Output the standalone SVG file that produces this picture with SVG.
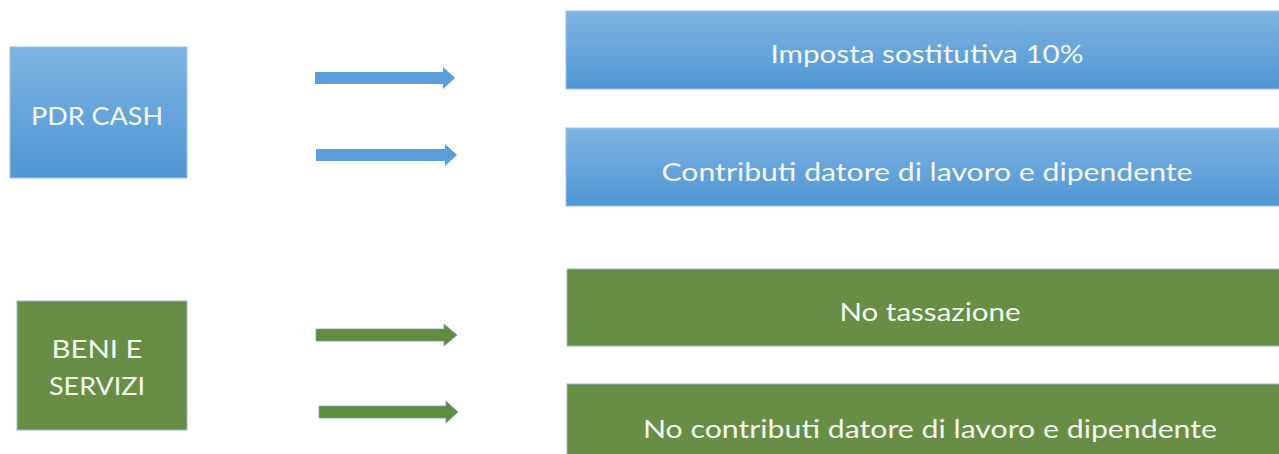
<svg xmlns="http://www.w3.org/2000/svg" width="1279" height="454" viewBox="0 0 1279 454">
  <defs>
    <linearGradient id="blueFill" x1="0" y1="0" x2="0" y2="1">
      <stop offset="0" stop-color="#7db4e3"/>
      <stop offset="1" stop-color="#4f96d4"/>
    </linearGradient>
    <style>
      .blue { fill: url(#blueFill); stroke: #9cc4e8; stroke-width: 1; }
      .green { fill: #668f45; stroke: #9bb8cf; stroke-width: 1; }
      .arrowBlue { fill: #5a9fdc; }
      .arrowGreen { fill: #5f8c3f; stroke: #7fa0b8; stroke-width: 0.8; }
      .label { font-family: Lato, "Open Sans", "Liberation Sans", sans-serif; font-size: 25px; fill: #f4f8f1; text-anchor: middle; }
    </style>
  </defs>

  <rect width="1279" height="454" fill="#ffffff"/>

  <!-- source boxes -->
  <g id="pdr-cash">
    <rect class="blue" x="10" y="47" width="177" height="131"/>
    <text class="label" x="97" y="125" textLength="132" lengthAdjust="spacingAndGlyphs">PDR CASH</text>
  </g>
  <g id="beni-servizi">
    <rect class="green" x="17" y="301" width="170" height="129"/>
    <text class="label" x="97" y="358" textLength="91" lengthAdjust="spacingAndGlyphs">BENI E</text>
    <text class="label" x="97" y="395" textLength="96" lengthAdjust="spacingAndGlyphs">SERVIZI</text>
  </g>

  <!-- outcome boxes -->
  <g id="imposta">
    <rect class="blue" x="566" y="11" width="720" height="78"/>
    <text class="label" x="927" y="63" textLength="313" lengthAdjust="spacingAndGlyphs">Imposta sostitutiva 10%</text>
  </g>
  <g id="contributi">
    <rect class="blue" x="566" y="128" width="720" height="78"/>
    <text class="label" x="927" y="181" textLength="531" lengthAdjust="spacingAndGlyphs">Contributi datore di lavoro e dipendente</text>
  </g>
  <g id="no-tassazione">
    <rect class="green" x="567" y="269" width="720" height="77"/>
    <text class="label" x="930" y="321" textLength="181" lengthAdjust="spacingAndGlyphs">No tassazione</text>
  </g>
  <g id="no-contributi">
    <rect class="green" x="567" y="384" width="720" height="80"/>
    <text class="label" x="930" y="438" textLength="574" lengthAdjust="spacingAndGlyphs">No contributi datore di lavoro e dipendente</text>
  </g>

  <!-- block arrows -->
  <g id="connectors">
    <path class="arrowBlue" d="M315 72 H443 V67 L455 78 L443 89 V84 H315 Z"/>
    <path class="arrowBlue" d="M316 149 H445 V144 L457 155 L445 166 V161 H316 Z"/>
    <path class="arrowGreen" d="M316 329 H444 V324 L457 335 L444 346 V341 H316 Z"/>
    <path class="arrowGreen" d="M319 406 H446 V401 L458 412 L446 423 V418 H319 Z"/>
  </g>
</svg>
